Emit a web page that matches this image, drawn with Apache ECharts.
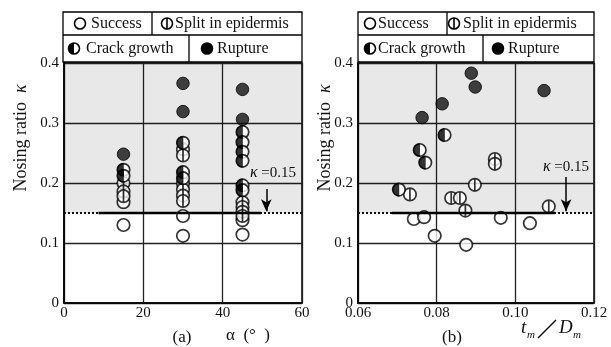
<!DOCTYPE html>
<html>
<head>
<meta charset="utf-8">
<script src="https://cdn.jsdelivr.net/npm/echarts@6/dist/echarts.min.js"></script>
<style>html,body{margin:0;background:#fff}#c{width:611px;height:347px}</style>
</head>
<body>
<div id="c"></div>
<script>
// (a) bending angle alpha vs nosing ratio
const successA = [[15,0.168],[15,0.130],[30,0.145],[30,0.112],[45,0.138],[45,0.114]];
const splitA = [[15,0.200],[15,0.186],[15,0.178],[30,0.256],[30,0.246],[30,0.199],[30,0.189],[30,0.179],[30,0.170],[45,0.168],[45,0.160],[45,0.152],[45,0.145]];
const crackA = [[15,0.222],[15,0.212],[30,0.267],[30,0.218],[30,0.208],[45,0.285],[45,0.268],[45,0.252],[45,0.237],[45,0.196],[45,0.188]];
const ruptureA = [[15,0.248],[30,0.366],[30,0.319],[45,0.356],[45,0.306]];
// (b) tm/Dm vs nosing ratio
const successB = [[0.0742,0.140],[0.0768,0.143],[0.0963,0.142],[0.1037,0.133],[0.0795,0.112],[0.0875,0.097]];
const splitB = [[0.0948,0.240],[0.0948,0.232],[0.0732,0.181],[0.0897,0.197],[0.0837,0.175],[0.0859,0.175],[0.0873,0.154],[0.1085,0.161]];
const crackB = [[0.0820,0.280],[0.0757,0.255],[0.0771,0.234],[0.0704,0.189]];
const ruptureB = [[0.0888,0.383],[0.0898,0.360],[0.0814,0.332],[0.1073,0.354],[0.0763,0.309]];

const kappaLimit = 0.15;
const xRangeA = [0, 60], xRangeB = [0.06, 0.12];
const solidA = [8.7, 49.7], solidB = [0.0686, 0.110];
const arrowA = [51, 0.19], arrowB = [0.1129, 0.21];

const FONT = "'Liberation Serif','DejaVu Serif',serif";
const chart = echarts.init(document.getElementById('c'));

const splitPath = 'path://M10,0 A10,10 0 1,1 10,20 A10,10 0 1,1 10,0 Z M10,0 L10,20';
const halfPath = 'path://M10,0 A10,10 0 0,0 10,20 Z';
const SZ = 12.5;

function panel(i, suc, spl, crk, rup, xr, solid, arrow) {
  const ax = {xAxisIndex: i, yAxisIndex: i};
  const open = {color: '#fff', borderColor: '#000', borderWidth: 1.7};
  return [
    Object.assign({type: 'line', data: [[xr[0], kappaLimit], [xr[1], kappaLimit]], symbol: 'none', silent: true,
      lineStyle: {color: '#111', width: 2, type: [2, 2]},
      markArea: {silent: true, itemStyle: {color: 'rgba(0,0,0,0.09)'}, data: [[{yAxis: kappaLimit}, {yAxis: 0.4}]]}}, ax),
    Object.assign({type: 'line', data: [[solid[0], kappaLimit], [solid[1], kappaLimit]], symbol: 'none', silent: true,
      lineStyle: {color: '#000', width: 2.5},
      markLine: {silent: true, symbol: ['none', 'arrow'], symbolSize: [8, 12], label: {show: false},
        lineStyle: {color: '#000', width: 1.5, type: 'solid'},
        data: [[{coord: arrow}, {coord: [arrow[0], kappaLimit + 0.003]}]]}}, ax),
    Object.assign({type: 'scatter', data: suc, symbol: 'circle', symbolSize: SZ, itemStyle: open}, ax),
    Object.assign({type: 'scatter', data: spl, symbol: splitPath, symbolSize: SZ, itemStyle: open}, ax),
    Object.assign({type: 'scatter', data: crk, symbol: 'circle', symbolSize: SZ, itemStyle: open}, ax),
    Object.assign({type: 'scatter', data: crk, symbol: halfPath, symbolSize: [SZ / 2, SZ], symbolOffset: [-SZ / 4, 0],
      itemStyle: {color: '#000', borderColor: '#000', borderWidth: 0.8}}, ax),
    Object.assign({type: 'scatter', data: rup, symbol: 'circle', symbolSize: SZ, itemStyle: {color: '#111', borderColor: '#000', borderWidth: 1}}, ax)
  ];
}

function xAxis(i, r, fmt) {
  return {gridIndex: i, type: 'value', min: r[0], max: r[1], interval: (r[1] - r[0]) / 3,
    axisLine: {show: true, lineStyle: {color: '#000', width: 1.5}}, axisTick: {show: false},
    axisLabel: {color: '#111', fontFamily: FONT, fontSize: 15, margin: 3, formatter: fmt},
    splitLine: {show: true, lineStyle: {color: '#222', width: 1.3}}};
}
function yAxis(i) {
  return {gridIndex: i, type: 'value', min: 0, max: 0.4, interval: 0.1,
    axisLine: {show: true, lineStyle: {color: '#000', width: 1.5}}, axisTick: {show: false},
    axisLabel: {color: '#111', fontFamily: FONT, fontSize: 15, margin: 5},
    splitLine: {show: true, lineStyle: {color: '#222', width: 1.3}}};
}

// legend table drawn as graphic
function legend(x0, x1, d1, d2, icons) {
  const els = [
    {type: 'rect', shape: {x: x0, y: 12, width: x1 - x0, height: 50}, style: {fill: '#fff', stroke: '#000', lineWidth: 1.3}},
    {type: 'line', shape: {x1: x0, y1: 35, x2: x1, y2: 35}, style: {stroke: '#000', lineWidth: 1.3}},
    {type: 'line', shape: {x1: d1, y1: 12, x2: d1, y2: 35}, style: {stroke: '#000', lineWidth: 1.3}},
    {type: 'line', shape: {x1: d2, y1: 35, x2: d2, y2: 62}, style: {stroke: '#000', lineWidth: 1.3}}
  ];
  icons.forEach(function (it) {
    const cx = it[0], cy = it[1], kind = it[2];
    els.push({type: 'circle', shape: {cx: cx, cy: cy, r: 5.5}, style: {fill: kind === 'rup' ? '#000' : '#fff', stroke: '#000', lineWidth: 1.6}});
    if (kind === 'spl') els.push({type: 'line', shape: {x1: cx, y1: cy - 5.5, x2: cx, y2: cy + 5.5}, style: {stroke: '#000', lineWidth: 1.6}});
    if (kind === 'crk') els.push({type: 'sector', shape: {cx: cx, cy: cy, r0: 0, r: 5.5, startAngle: Math.PI / 2, endAngle: Math.PI * 1.5, clockwise: true}, style: {fill: '#000'}});
    els.push({type: 'text', x: it[3], y: cy, style: {text: it[4], font: '16px ' + FONT, fill: '#111', verticalAlign: 'middle'}});
  });
  return els;
}

function kappaLabel(x, y) {
  return {type: 'text', x: x, y: y, style: {text: '{k|κ} =0.15', font: '15px ' + FONT, fill: '#111', align: 'center', verticalAlign: 'middle',
    rich: {k: {fontStyle: 'italic', fontSize: 16, fontFamily: FONT}}}};
}
function yName(x) {
  return {type: 'text', x: x, y: 138, rotation: Math.PI / 2,
    style: {text: 'Nosing ratio  {k|κ}', font: '18px ' + FONT, fill: '#111', align: 'center', verticalAlign: 'middle',
      rich: {k: {fontStyle: 'italic', fontSize: 18, fontFamily: FONT}}}};
}

const graphics = []
  .concat(legend(63, 302, 152, 189, [
    [80, 23.5, 'suc', 91, 'Success'], [167, 23.5, 'spl', 175, 'Split in epidermis'],
    [74, 48.5, 'crk', 86, 'Crack growth'], [207, 48.5, 'rup', 217, 'Rupture']]))
  .concat(legend(358, 594, 447, 483, [
    [370, 23.5, 'suc', 378, 'Success'], [454, 23.5, 'spl', 463, 'Split in epidermis'],
    [370, 48.5, 'crk', 378, 'Crack growth'], [498, 48.5, 'rup', 508, 'Rupture']]))
  .concat([
    kappaLabel(273, 173), kappaLabel(566, 167),
    yName(21), yName(325),
    {type: 'text', x: 182, y: 338, style: {text: '(a)', font: '17px ' + FONT, fill: '#111', align: 'center', verticalAlign: 'middle'}},
    {type: 'text', x: 248, y: 336, style: {text: 'α  (°  )', font: '17px ' + FONT, fill: '#111', align: 'center', verticalAlign: 'middle'}},
    {type: 'text', x: 452, y: 338, style: {text: '(b)', font: '17px ' + FONT, fill: '#111', align: 'center', verticalAlign: 'middle'}},
    {type: 'text', x: 521, y: 328, style: {text: 't', font: 'italic 19px ' + FONT, fill: '#111', verticalAlign: 'middle'}},
    {type: 'text', x: 527, y: 335, style: {text: 'm', font: 'italic 11px ' + FONT, fill: '#111', verticalAlign: 'middle'}},
    {type: 'line', shape: {x1: 538, y1: 338, x2: 556, y2: 320}, style: {stroke: '#111', lineWidth: 1.4}},
    {type: 'text', x: 559, y: 328, style: {text: 'D', font: 'italic 19px ' + FONT, fill: '#111', verticalAlign: 'middle'}},
    {type: 'text', x: 573, y: 335, style: {text: 'm', font: 'italic 11px ' + FONT, fill: '#111', verticalAlign: 'middle'}}
  ]);

chart.setOption({
  backgroundColor: '#fff',
  animation: false,
  grid: [
    {left: 64, top: 63, width: 238, height: 240, show: true, borderColor: '#000', borderWidth: 1.5, backgroundColor: '#fff'},
    {left: 358, top: 63, width: 236, height: 240, show: true, borderColor: '#000', borderWidth: 1.5, backgroundColor: '#fff'}
  ],
  xAxis: [xAxis(0, xRangeA), xAxis(1, xRangeB, function (v) { return v.toFixed(2); })],
  yAxis: [yAxis(0), yAxis(1)],
  series: panel(0, successA, splitA, crackA, ruptureA, xRangeA, solidA, arrowA)
    .concat(panel(1, successB, splitB, crackB, ruptureB, xRangeB, solidB, arrowB)),
  graphic: graphics
});
</script>
</body>
</html>
